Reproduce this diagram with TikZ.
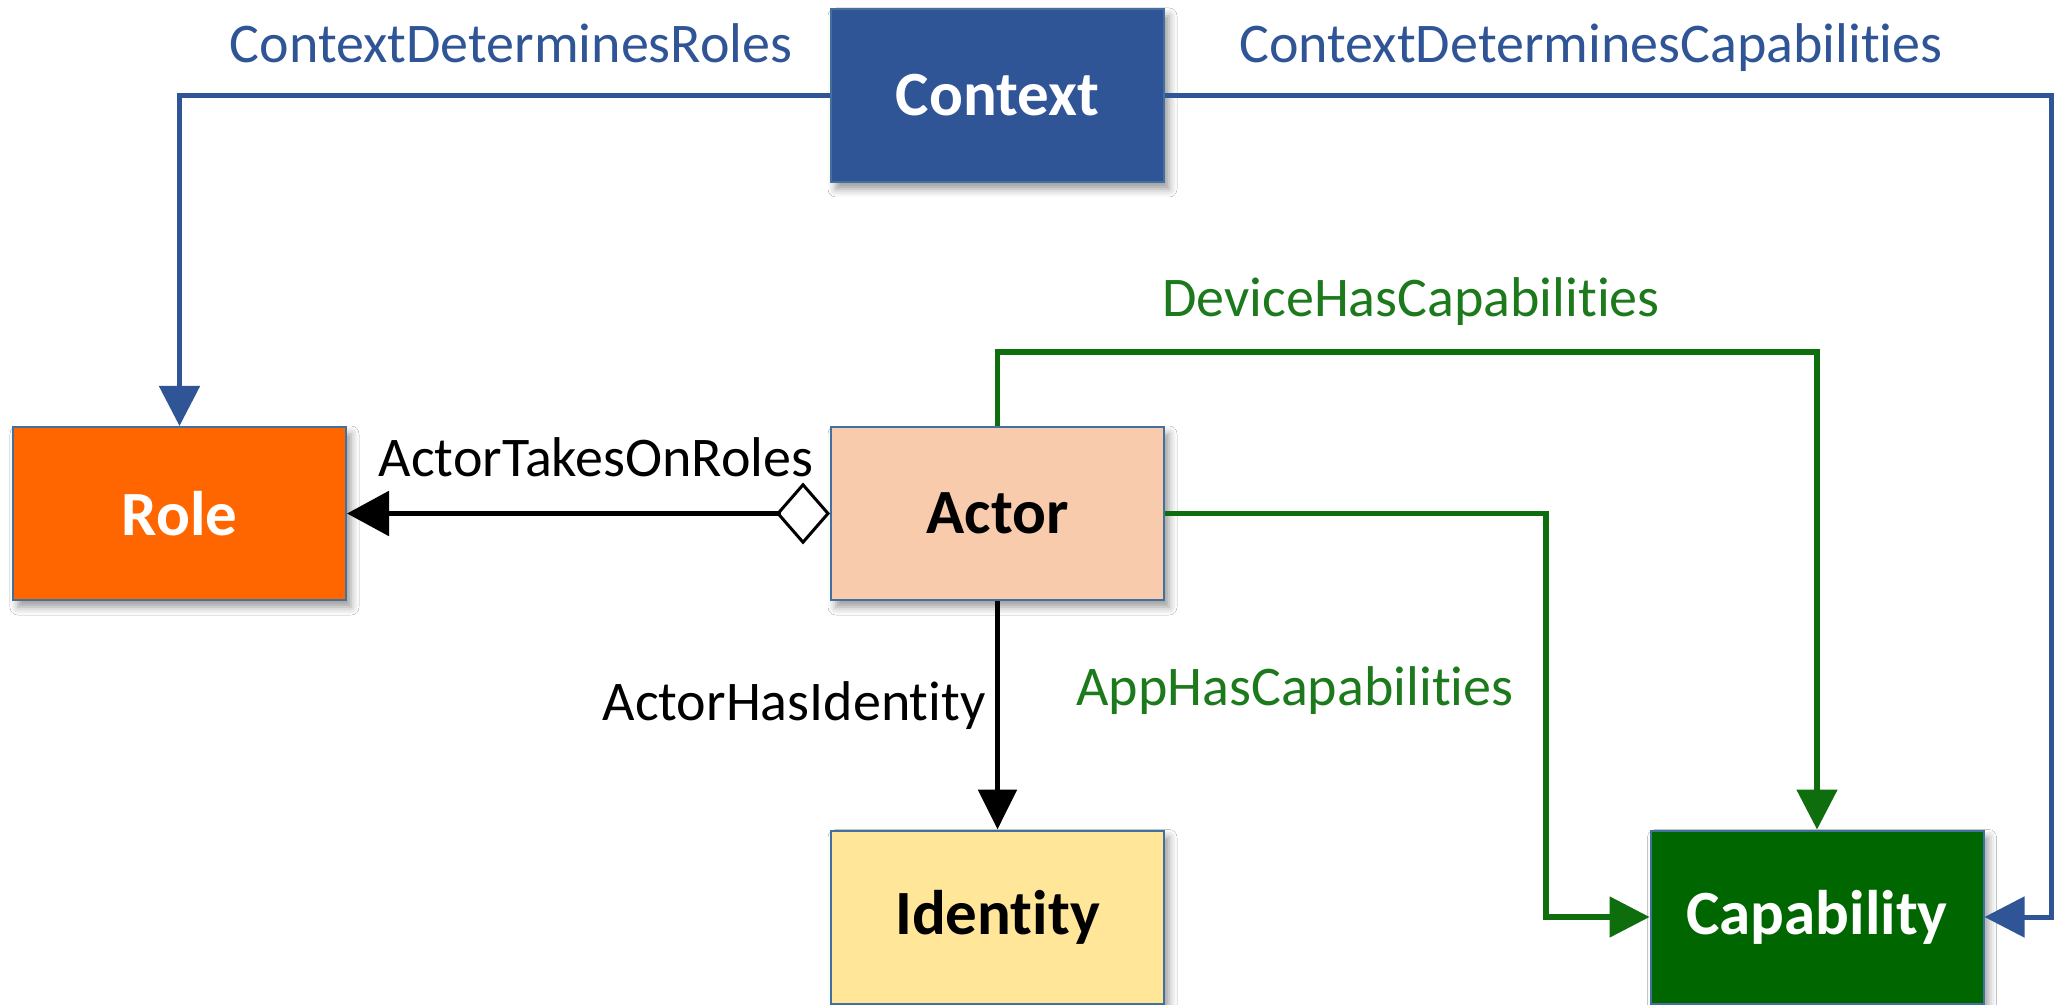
\documentclass[tikz,border=0pt]{standalone}
\usepackage{fontspec}
\setmainfont{Carlito}[Ligatures=NoCommon]
\usetikzlibrary{arrows.meta,shadows.blur}
\definecolor{ctxblue}{HTML}{2F5597}
\definecolor{boxedge}{HTML}{41719C}
\definecolor{roleorange}{HTML}{FF6600}
\definecolor{actorpeach}{HTML}{F8CBAD}
\definecolor{identyellow}{HTML}{FFE699}
\definecolor{capgreen}{HTML}{006600}
\definecolor{linkgreen}{HTML}{0E6E0E}
\definecolor{lblgreen}{HTML}{1C7A1C}
\begin{document}
\begin{tikzpicture}[x=0.5pt,y=-0.5pt,
  box/.style={draw=boxedge,line width=1pt,minimum width=166.5pt,minimum height=86.5pt,
    inner sep=0pt,font=\fontsize{31.5}{36}\selectfont\bfseries,
    blur shadow={shadow xshift=2.5pt,shadow yshift=-3.5pt,shadow blur radius=4pt}},
  lbl/.style={anchor=base,inner sep=0pt,font=\fontsize{28}{32}\selectfont},
  bluelink/.style={draw=ctxblue,line width=2.5pt,-{Triangle[length=20pt,width=20pt]}},
  greenlink/.style={draw=linkgreen,line width=2.6pt,-{Triangle[length=20pt,width=20pt]}},
  blacklink/.style={draw=black,line width=2.8pt},
]
\useasboundingbox[fill=white] (0,0) rectangle (2056,1005);

% entities
\node[box,fill=ctxblue,text=white] (ctx) at (997.5,95.5) {Context};
\node[box,fill=roleorange,text=white] (role) at (179.5,513.5) {Role};
\node[box,fill=actorpeach,text=black] (act) at (997.5,513.5) {Actor};
\node[box,fill=identyellow,text=black] (idn) at (997.5,917) {Identity};
\node[box,fill=capgreen,text=white] (cap) at (1817,917) {Capability};

% bend points of the routed links
\coordinate (ctxcorner) at (2051,917);
\coordinate (devtop) at (1817,352);
\coordinate (appcol) at (1546,700);

% links
\draw[bluelink] (ctx.west) -| (role.north);
\draw[bluelink] (ctx.east) -| (ctxcorner) -- (cap.east);
\draw[greenlink] (act.north) |- (devtop) -- (cap.north);
\draw[greenlink] (act.east) -| (appcol) |- (cap.west);
\draw[blacklink,{Diamond[open,length=27pt,width=31pt,line width=1.5pt]}-{Triangle[length=21pt,width=22pt]}]
  (act.west) -- (role.east);
\draw[blacklink,-{Triangle[length=20pt,width=19pt]}] (act.south) -- (idn.north);

% link labels
\node[lbl,text=ctxblue] (lcdr) at (511,63) {ContextDeterminesRoles};
\node[lbl,text=ctxblue] (lcdc) at (1591,63) {ContextDeterminesCapabilities};
\node[lbl,text=lblgreen] (ldhc) at (1411,317) {DeviceHasCapabilities};
\node[lbl,text=lblgreen] (lahc) at (1295,705) {AppHasCapabilities};
\node[lbl,text=black] (lator) at (596,477) {ActorTakesOnRoles};
\node[lbl,anchor=base east,text=black] (lahi) at (986,720) {ActorHasIdentity};
\end{tikzpicture}
\end{document}
